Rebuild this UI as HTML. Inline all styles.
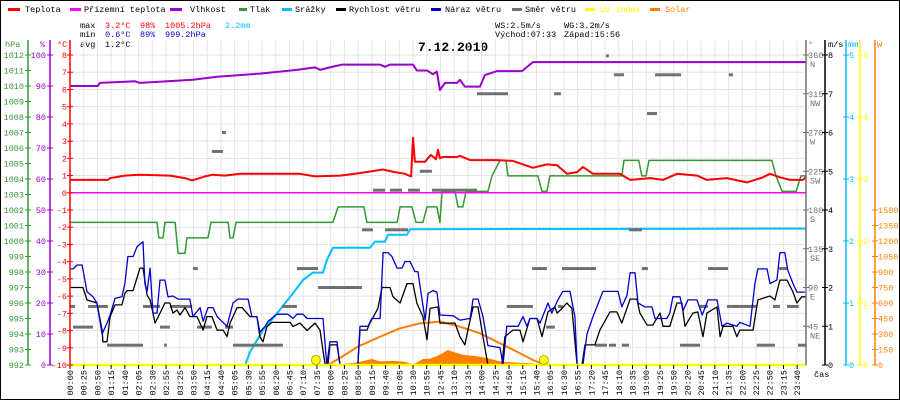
<!DOCTYPE html>
<html><head><meta charset="utf-8"><title>Weather 7.12.2010</title>
<style>
html,body{margin:0;padding:0;background:#fff;}
svg{display:block;font-family:"Liberation Mono","DejaVu Sans Mono",monospace;}
</style></head>
<body>
<svg id="chart" width="900" height="400" viewBox="0 0 900 400" xmlns="http://www.w3.org/2000/svg">
<rect x="0.5" y="0.5" width="899" height="399" fill="#fff" stroke="#000" stroke-width="1"/>
<g font-size="8.5">
 <g><rect x="8" y="8" width="12" height="3" fill="#ff0000"/><text x="25" y="12" fill="#000">Teplota</text></g>
 <g><rect x="70" y="8" width="11" height="3" fill="#ff00ff"/><text x="84" y="12" fill="#000">Přízemní teplota</text></g>
 <g><rect x="170" y="8" width="12" height="3" fill="#9900cc"/><text x="190" y="12" fill="#000">Vlhkost</text></g>
 <g><rect x="239" y="8" width="8" height="3" fill="#339933"/><text x="250" y="12" fill="#000">Tlak</text></g>
 <g><rect x="282" y="8" width="10" height="3" fill="#00bfff"/><text x="295" y="12" fill="#000">Srážky</text></g>
 <g><rect x="336" y="8" width="10" height="3" fill="#000"/><text x="349" y="12" fill="#000">Rychlost větru</text></g>
 <g><rect x="431" y="8" width="10" height="3" fill="#0000cc"/><text x="445" y="12" fill="#000">Náraz větru</text></g>
 <g><rect x="512" y="8" width="10" height="3" fill="#707070"/><text x="525" y="12" fill="#000">Směr větru</text></g>
 <g><rect x="585" y="8" width="10" height="3" fill="#ffff00"/><text x="600" y="12" fill="#ffff00">UV index</text></g>
 <g><rect x="650" y="8" width="10" height="3" fill="#ff8000"/><text x="665" y="12" fill="#ff8000">Solar</text></g>
</g>
<g font-size="8.5">
 <text x="80" y="28" fill="#000">max</text><text x="105" y="28" fill="#ff0000">3.2°C</text><text x="140" y="28" fill="#ff0000">98%</text><text x="165" y="28" fill="#ff0000">1005.2hPa</text><text x="225" y="28" fill="#00bfff">2.2mm</text>
 <text x="80" y="37" fill="#000">min</text><text x="105" y="37" fill="#0000cc">0.6°C</text><text x="140" y="37" fill="#0000cc">89%</text><text x="165" y="37" fill="#0000cc">999.2hPa</text>
 <text x="80" y="47" fill="#000">avg</text><text x="105" y="47" fill="#000">1.2°C</text>
 <text x="495" y="28" fill="#000">WS:2.5m/s</text><text x="564" y="28" fill="#000">WG:3.2m/s</text>
 <text x="495" y="37" fill="#000">Východ:07:33</text><text x="564" y="37" fill="#000">Západ:15:56</text>
</g>
<text x="418" y="51" font-size="13" font-weight="bold" fill="#000">7.12.2010</text>
<g id="grid"></g>
<g id="series"></g>
<g id="axes"></g>
</svg>
<script>
// ---------- data ----------
const xLabels = ["00:00","00:25","00:50","01:15","01:40","02:05","02:30","02:55","03:25","03:50","04:15","04:40","05:05","05:30","05:55","06:20","06:45","07:10","07:35","08:00","08:25","08:50","09:15","09:40","10:05","10:30","10:55","12:45","13:10","13:35","14:00","14:25","14:50","15:15","15:40","16:05","16:30","16:55","17:20","17:45","18:10","18:35","19:00","19:25","19:50","20:20","20:45","21:10","21:35","22:00","22:25","22:50","23:15","23:40"];
const hpaTicks = [992,993,994,995,996,997,998,999,1000,1001,1002,1003,1004,1005,1006,1007,1008,1009,1010,1011,1012];
const pctTicks = [0,10,20,30,40,50,60,70,80,90,100];
const tempTicks = [-10,-9,-8,-7,-6,-5,-4,-3,-2,-1,0,1,2,3,4,5,6,7,8];
const degTicks = [45,90,135,180,225,270,315,360];
const degNames = ["NE","E","SE","S","SW","W","NW","N"];
const msTicks = [0,1,2,3,4,5,6,7,8];
const mmTicks = [0,1,2,3,4,5];
const uvTicks = [0,1,2,3,4,5];
const solarTicks = [0,150,300,450,600,750,900,1050,1200,1350,1500];

const tempIdx = [0,13.8,14.6,20,25.5,36.4,41.9,44.5,49.2,52.1,56.5,61.9,83.8,89.3,98.4,103.9,110,114,118.4,122.1,124.3,125,125.7,129.4,131.5,133.4,134.1,134.8,135.9,141,142.1,145.8,155.6,161.4,168.7,173.8,177.5,181.1,184.8,186.9,190.6,200.4,204.1,211.4,216.1,221.2,228.5,232.1,239.4,246.7,252.5,255.1,258.7,262.4,267.1,268.2];
const tempVal = [0.75,0.75,0.85,1.0,1.05,1.0,0.85,0.72,0.95,1.05,1.0,1.1,1.1,0.95,1.0,1.1,1.25,1.35,1.2,1.1,0.95,3.2,1.8,1.8,2.2,1.95,2.5,2.0,2.08,2.08,2.15,1.9,1.9,1.85,1.45,1.65,1.6,1.1,1.2,1.5,1.1,1.1,0.75,0.85,0.75,1.1,1.0,0.75,0.85,0.6,0.9,1.1,0.9,0.75,0.75,0.9];
const chillIdx = [0,268.2];
const chillVal = [0,0];
const humIdx = [0,10.1,10.9,23.7,25.5,44.8,53.6,69.2,82.7,89.3,91.1,94.7,99.1,113,114.8,116.6,125,126.4,130.1,132.3,133.7,134.8,136.7,141,142.1,143.9,149.4,151.2,155.6,164.7,168.7,268.2];
const humVal = [90,90,91,91.5,91,92,93,94,95.2,96,95.2,96,96.9,96.9,96.2,96.9,96.9,95,95,93.8,94.6,88.7,91,91,92,89.8,89.8,93.5,94.8,94.8,97.7,97.7];
const presIdx = [0,31.7,32.4,33.9,34.6,38.3,39.4,41.9,42.6,50.3,51.4,57.6,58.3,59.4,60.5,95.8,97.7,107.1,108.2,119.2,120.3,124.6,126.1,128.6,130.1,133.7,134.8,135.6,140.3,141.4,143.2,144.3,152.3,153.8,156.7,158.9,159.6,170.5,172,173.8,174.9,201.1,201.9,207.3,208.4,209.9,211,255.8,257.3,259.5,264.6,266.4,268.2];
const presVal = [1001.2,1001.2,1000.2,1000.2,1001.2,1001.2,999.2,999.2,1000.2,1000.2,1001.2,1001.2,1000.2,1000.2,1001.2,1001.2,1002.2,1002.2,1001.2,1001.2,1002.2,1002.2,1001.2,1001.2,1002.2,1002.2,1001.2,1003.2,1003.2,1002.2,1002.2,1003.2,1003.2,1004.2,1005.2,1005.2,1004.2,1004.2,1003.2,1003.2,1004.2,1004.2,1005.2,1005.2,1004.2,1004.2,1005.2,1005.2,1004.2,1003.2,1003.2,1004.2,1004.2];
const rainIdx = [0,63.8,65.6,70.3,76.5,81.3,84.9,88.5,92.2,93.6,95.8,109.3,111.1,114.8,115.9,122.8,123.9,268.2];
const rainVal = [0,0,0.21,0.56,0.89,1.16,1.37,1.49,1.49,1.69,1.89,1.89,1.99,1.99,2.1,2.1,2.19,2.2];
const speedIdx = [0,4.7,6.2,9.8,11.7,12,13.5,14.6,16.4,18.9,20,20.8,23,25.5,26.6,28.1,29.2,31,32.8,34.6,36.4,37.5,39,40.1,41.9,43.7,46.3,48.5,49.9,51.7,53.6,55.8,57.2,58.3,60.9,62.7,65.6,68.1,69.2,70.3,71.8,73.6,80.2,81.3,83.8,86.4,89.3,91.1,92.9,94,94.7,97.3,98.4,104.9,105.7,108.2,109.3,112.2,113.7,116.6,117.7,120.3,122.8,125,126.4,128.6,130.1,131.2,134.1,134.8,140.3,142.1,143.9,145,146.9,148.7,150.5,152.3,157.4,158.5,161.4,164,165.1,167.6,170.2,172,174.2,176.7,177.5,179.3,181.1,182.9,184.8,186.6,187.7,191.3,193.1,196.8,199.3,201.1,204.1,206.6,207.7,210.3,212.4,215,216.1,218.6,221.2,223,224.1,227,228.8,230.7,232.1,235.8,236.9,238,241.6,243,244.1,248.9,250.7,255.1,256.9,258.7,261.3,263.5,264.9,266.7,268.2];
const speedVal = [2.0,2.0,1.68,1.6,0.9,0.6,0.6,1.25,1.55,1.55,1.85,1.92,1.92,2.5,2.5,1.8,1.68,1.08,1.34,1.6,1.6,1.34,1.42,1.29,1.48,1.25,1.25,0.9,1.25,1.25,0.9,0.9,0.73,1.08,1.48,1.48,1.25,1.25,0.73,0.6,0.99,1.1,1.1,0.99,1.08,0.89,1.08,0.9,0.04,0,0.52,0.52,0,0,0.9,0.9,1.08,1.46,2.0,2.0,1.76,1.6,2.1,2.1,1.6,1.25,0.65,1.46,1.5,1.08,1.08,0.73,0.52,0.9,1.5,1.5,0.73,0,0,0.73,0.9,0.9,0.6,1.2,1.2,0.73,1.37,1.5,1.34,1.46,1.6,1.46,0,0,0.52,0.52,0.9,1.37,1.37,1.08,1.7,1.7,1.34,1.03,1.03,1.34,1.0,1.0,1.6,1.6,1.0,1.34,1.37,0.73,1.34,1.5,0.73,1.0,1.0,0.73,0.9,0.9,1.68,1.78,1.68,2.19,2.19,1.88,1.6,1.76,1.76];
const gustIdx = [0,1.1,2.6,4.4,6.2,8.4,9.8,11.7,13.5,14.6,16.4,18.9,20,21.1,23,24.4,26.6,27.3,28.1,29.2,30.2,31.7,32.8,34.6,35.7,37.5,39.4,43.7,44.8,47.4,48.5,50.3,52.1,53.6,57.2,59.4,61.2,64.9,66.3,68.1,69.2,71.1,72.2,75.4,79.4,81.3,82.7,84.9,86.4,92.2,93.6,94.7,97.3,98.4,104.9,105.7,108.6,110,113,114.1,115.9,117.3,119.2,121,122.1,123.9,125.7,126.8,128.3,129.4,130.5,132.3,133.7,134.8,139.6,142.1,145.8,146.9,148.7,150.5,152.3,156.7,157.8,159.2,163.3,165.1,166.5,167.6,170.2,171.3,174.2,175.6,177.8,179.6,182.2,184,184.8,186.9,188.4,190.6,194.2,199.7,201.1,203,204.1,205.9,207,209.5,212.1,213.2,217.5,218.6,219.7,222.3,223.4,225.2,228.5,230.4,232.5,235.8,237.6,239.4,243,244.1,247.8,249.6,250.7,254,255.1,257.6,258.7,260.5,261.6,263.5,264.9,267.8];
const gustVal = [2.48,2.48,2.58,2.58,1.89,1.76,1.6,0.8,1.08,1.29,1.72,1.76,2.1,2.8,2.8,3.05,3.18,2.1,1.9,2.5,1.34,1.34,2.19,2.19,1.76,1.78,1.7,1.7,1.25,1.48,1.13,1.48,1.48,1.25,1.0,1.6,1.7,1.7,1.25,1.25,0.85,1.0,1.13,1.31,1.31,1.2,1.31,1.31,1.2,1.2,0,0.6,0.6,0,0,1.0,1.0,1.2,1.2,2.9,2.9,2.8,2.5,2.5,2.67,2.67,2.41,2.41,1.68,1.16,1.85,1.92,1.88,1.29,1.27,1.16,1.2,1.7,1.7,1.25,0.5,0.45,0,1.0,1.0,1.25,1.0,1.2,1.2,1.08,1.6,1.34,1.68,1.9,1.9,1.25,0,0,0.8,1.25,1.9,1.9,1.5,1.8,2.38,2.38,1.6,1.5,1.5,1.2,1.2,1.34,1.76,1.76,1.4,1.68,1.68,1.29,1.68,1.68,1.0,1.08,1.0,1.1,1.0,2.1,2.48,2.48,2.1,2.19,2.9,2.9,2.45,2.1,1.88,1.88];
const dirStart = [0,6.6,1.1,13.5,26.6,32.8,34.3,36.4,44.8,46.3,51.7,55.4,56.5,59.4,77.3,82.7,90.4,106.4,110.4,114.8,116.6,120.3,123.2,127.5,131.9,148.3,159.2,168.4,173.5,176.4,177.8,179.3,191.3,196.4,198.2,201.1,195.3,203.7,208.4,210.3,213.2,222.3,229.2,232.5,239.4,240.1,241.2,250.3,256.2,258.4,261.3,265.3];
const dirEnd = [1.8,13.8,8.4,26.6,32.8,36.4,35.3,44.5,46.6,51.7,55.8,56.8,59.4,77.6,82.7,90.4,106.4,110.4,114.8,120.3,121,123.2,127.5,131.9,148.3,159.6,168.7,173.8,176.7,178.9,179.6,191.7,195.7,199,201.9,203.7,196.4,208.4,210.6,213.9,222.7,229.6,232.5,239.8,241.2,241.6,250.3,256.9,258.7,261.6,265.6,268.2];
const dirDeg = [68,68,44,23,68,44,23,68,112,44,248,270,44,23,68,112,90,157,203,157,203,157,203,225,203,315,68,112,44,315,68,112,23,23,337,23,359,157,112,292,337,23,68,112,68,337,68,23,68,112,68,23];
const solarIdx = [94,98.4,104.6,105.7,110,113,118.4,122.1,125,126.8,128.6,131.2,133.7,135.9,137.7,141,143.2,148.3,151.9,156.7,160.3,167.6,173.8];
const solarVal = [0,8,25,32,58,35,40,30,5,30,58,60,87,116,145,116,100,84,68,35,26,16,0];
const clearIdx = [94,98.4,104.9,113,120.3,127.5,134.8,137.4,142.1,149.4,156.7,162.9,168.7,172.4,173.5];
const clearVal = [0,68,177,274,355,403,420,403,371,307,210,129,48,10,0];
const uvIdx = [0,268.2];
const uvVal = [0,0];
const sunEventIdx = [89.6,172.7];
const sunEventName = ["sunrise-marker","sunset-marker"];

// ---------- scales ----------
const X0 = 70, STEP = 13.72/5, YB = 365;
const xS = i => X0 + i*STEP;
const yT = t => YB - (t+10)*310/18;
const yP = p => YB - (p-992)*15.5;
const yH = h => YB - h*3.1;
const yWS = v => YB - v*38.75;
const yMM = m => YB - m*62;
const yDeg = d => YB - d*310/360;
const ySol = w => YB - w*155/1500;
const yUV = u => YB - u*62;

const NS = "http://www.w3.org/2000/svg";
function mk(tag, parent, attrs){ const e=document.createElementNS(NS,tag); for(const k in attrs) e.setAttribute(k,attrs[k]); parent.appendChild(e); return e; }
const grid = document.getElementById('grid');
const series = document.getElementById('series');
const axes = document.getElementById('axes');

for (let i=0;i<xLabels.length;i++){
  const x = X0 + i*13.72;
  const l = mk('line', grid, {x1:x,x2:x,y1:40,y2:YB,stroke:'#e4e4e4','stroke-width':1});
  
  
  const t = mk('line', axes, {x1:x,x2:x,y1:YB,y2:YB+4,stroke:'#000','stroke-width':1});
  
  
  const lab = mk('text', axes, {x:0,y:0,'font-size':8.5,fill:'#000','text-anchor':'end',transform:`translate(${x+3},${YB+5}) rotate(-90)`});
  lab.textContent = xLabels[i];
  
  
}
for (const t of tempTicks){
  const y = yT(t);
  const l = mk('line', grid, {x1:X0,x2:806,y1:y,y2:y,stroke:'#e4e4e4','stroke-width':1});
  
  
}

function line(idx, vals, yf, color, w, name){
  const pts = idx.map((v,k)=> xS(v).toFixed(1)+','+yf(vals[k]).toFixed(1)).join(' ');
  const p = mk('polyline', series, {points:pts, fill:'none', stroke:color, 'stroke-width':w, 'stroke-linejoin':'round'});
  
  
  return p;
}
{
  const pts = solarIdx.map((v,k)=> xS(v).toFixed(1)+','+ySol(solarVal[k]).toFixed(1));
  pts.unshift(xS(solarIdx[0]).toFixed(1)+','+YB);
  pts.push(xS(solarIdx[solarIdx.length-1]).toFixed(1)+','+YB);
  const a = mk('polygon', series, {points:pts.join(' '), fill:'#ff8000'});
  
  
}
line(clearIdx, clearVal, ySol, '#ff8000', 2, 'solar-theoretical-line');
line(rainIdx, rainVal, yMM, '#00bfff', 2, 'precipitation-line');
line(presIdx, presVal, yP, '#339933', 1.5, 'pressure-line');
line(humIdx, humVal, yH, '#9900cc', 2, 'humidity-line');
line(chillIdx, chillVal, yT, '#ff00ff', 1.5, 'wind-chill-line');
line(tempIdx, tempVal, yT, '#ff0000', 2, 'temperature-line');
for (let k=0;k<dirDeg.length;k++){
  const r = mk('rect', series, {x:xS(dirStart[k]), y:yDeg(dirDeg[k])-1.5, width:Math.max(2,xS(dirEnd[k])-xS(dirStart[k])), height:3, fill:'#707070'});
  
  
}
line(speedIdx, speedVal, yWS, '#000000', 1.3, 'wind-speed-line');
line(gustIdx, gustVal, yWS, '#0000cc', 1.3, 'wind-gust-line');
line(uvIdx, uvVal, yUV, '#ffff00', 2.5, 'uv-index-line');
for (let k=0;k<sunEventIdx.length;k++){
  const c = mk('circle', series, {cx:xS(sunEventIdx[k]), cy:YB-5, r:4.5, fill:'#ffff00', stroke:'#999900','stroke-width':0.8});
  
  
}

function vAxis(x, color, name){
  const l = mk('line', axes, {x1:x,x2:x,y1:40,y2:YB,stroke:color,'stroke-width':1.5});
  
  
}
function ticks(arr, yf, x, color, labelX, anchor, name){
  for (const v of arr){
    const y = yf(v);
    const t = mk('line', axes, {x1:x-3,x2:x+3,y1:y,y2:y,stroke:color,'stroke-width':1});
    
    
    const tx = mk('text', axes, {x:labelX,y:y+3,'font-size':8.5,fill:color,'text-anchor':anchor});
    tx.textContent = String(v);
    
    
  }
}
vAxis(28,'#339933','pressure-axis');
vAxis(50,'#9900cc','humidity-axis');
vAxis(70,'#ff0000','temperature-axis');
vAxis(806,'#707070','direction-axis');
vAxis(825,'#000000','wind-speed-axis');
vAxis(846,'#00bfff','precipitation-axis');
vAxis(860,'#ffff00','uv-axis');
vAxis(875,'#ff8000','solar-axis');
ticks(hpaTicks, yP, 28, '#339933', 24, 'end', 'pressure');
ticks(pctTicks, yH, 50, '#9900cc', 46, 'end', 'humidity');
ticks(tempTicks, yT, 70, '#ff0000', 67, 'end', 'temperature');
ticks(degTicks, yDeg, 806, '#707070', 808, 'start', 'direction');
ticks(msTicks, yWS, 825, '#000000', 828, 'start', 'wind-speed');
ticks(mmTicks, yMM, 846, '#00bfff', 849, 'start', 'precipitation');
ticks(uvTicks, yUV, 860, '#ffff00', 863, 'start', 'uv');
ticks(solarTicks, ySol, 875, '#ff8000', 878, 'start', 'solar');
for (let k=0;k<degTicks.length;k++){
  const tx = mk('text', axes, {x:810,y:yDeg(degTicks[k])+12,'font-size':8.5,fill:'#707070'});
  tx.textContent = degNames[k];
  
  
}
const unitLabels = [["hPa",5,'#339933'],["%",40,'#9900cc'],["°C",57,'#ff0000'],["°",808,'#707070'],["m/s",828,'#000'],["mm",848,'#00bfff'],["W",877,'#ff8000']];
for (const u of unitLabels){
  const tx = mk('text', axes, {x:u[1],y:47,'font-size':8.5,fill:u[2]});
  tx.textContent = u[0];
  
  
}
{
  const tx = mk('text', axes, {x:814,y:377,'font-size':8.5,fill:'#000'});
  tx.textContent = 'čas';
  
  
}
</script>
</body></html>
